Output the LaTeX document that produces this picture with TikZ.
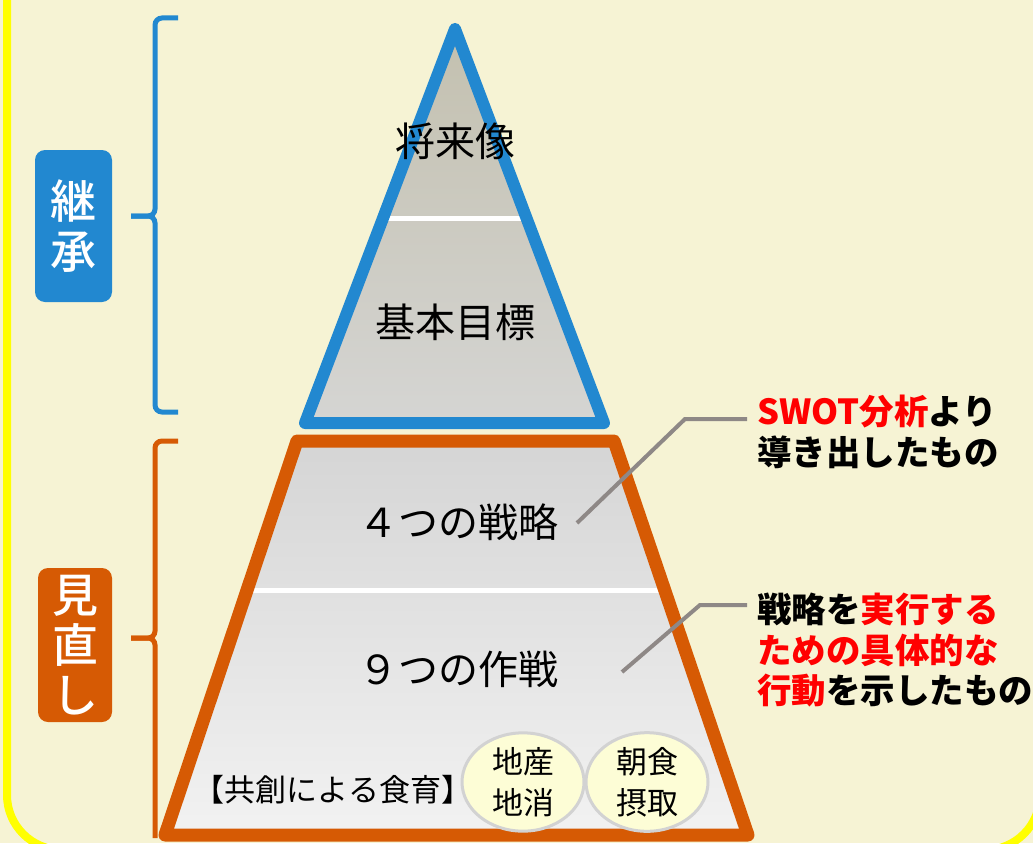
\documentclass[tikz,border=0pt]{standalone}
\usepackage{fontspec}
\newfontfamily\jp{Noto Sans CJK JP}
\IfFontExistsTF{Noto Sans CJK JP Medium}
 {\newfontfamily\jpb{Noto Sans CJK JP Medium}}
 {\newfontfamily\jpb{Noto Sans CJK JP}[FakeBold=2]}
\usetikzlibrary{shapes.geometric}
\definecolor{bg}{HTML}{F6F3D4}
\definecolor{ylw}{HTML}{FFFF00}
\definecolor{bl}{HTML}{2288D0}
\definecolor{org}{HTML}{D65A04}
\definecolor{ldr}{HTML}{8E8886}
\definecolor{ell}{HTML}{FDFDD6}
\definecolor{ellb}{HTML}{D2D2D2}
\definecolor{tritop}{HTML}{C3C0AF}
\definecolor{tribot}{HTML}{D5D5D3}
\definecolor{trtop}{HTML}{D5D5D5}
\definecolor{trbot}{HTML}{F2F2F2}
\tikzset{
 lvl/.style={font=\jp\fontsize{40}{48}\selectfont, inner sep=0},
 call/.style={font=\jp\bfseries\fontsize{34.5}{40}\selectfont, inner sep=0, anchor=west},
 ldrline/.style={draw=ldr, line width=4},
 tag/.style={rounded corners=10, text=white, font=\jpb\fontsize{46}{50}\selectfont, align=center, inner sep=0},
 brace/.style={line width=5, rounded corners=7},
 food/.style={ellipse, draw=ellb, fill=ell, line width=3, minimum width=122, minimum height=96, inner sep=0, align=center, font=\jp\fontsize{31}{41}\selectfont},
 divider/.style={draw=white, line width=5},
}
\begin{document}
\begin{tikzpicture}[x=1pt,y=-1pt]
\useasboundingbox (0,0) rectangle (1033,843);
\fill[bg] (0,0) rectangle (1033,843);
\draw[ylw, line width=8, rounded corners=55] (7,-60) rectangle (1040,850);

% brackets
\draw[bl, brace] (178,18) -- (155,18) -- (155,216) -- (131,216);
\draw[bl, brace] (131,216) -- (155,216) -- (155,412) -- (178,412);
\draw[org, brace] (178,441) -- (155,441) -- (155,638) -- (131,638);
\draw[org, brace] (131,638) -- (155,638) -- (155,838);

% tags
\node[tag, fill=bl, minimum width=77, minimum height=152] (keisho) at (73.5,226) {継\\承};
\node[tag, fill=org, minimum width=74, minimum height=154] (minaoshi) at (75,645) {見\\直\\し};

% trapezoid
\coordinate (TL) at (297,441);
\coordinate (TR) at (614,441);
\coordinate (BR) at (748,835);
\coordinate (BL) at (165,835);
\shade[top color=trtop, bottom color=trbot] (TL) -- (TR) -- (BR) -- (BL) -- cycle;
\draw[divider] (245,590) -- (668,590);
\draw[org, line width=13, line join=round] (TL) -- (TR) -- (BR) -- (BL) -- cycle;

% triangle
\coordinate (AP) at (455,29);
\coordinate (TBL) at (305,423);
\coordinate (TBR) at (604,423);
\shade[top color=tritop, bottom color=tribot] (AP) -- (TBR) -- (TBL) -- cycle;
\draw[divider] (382,218) -- (528,218);
\draw[bl, line width=12, line join=round] (AP) -- (TBR) -- (TBL) -- cycle;

% level labels
\node[lvl] (shorai) at (455,141) {将来像};
\node[lvl] (kihon) at (455,322) {基本目標};
\node[lvl] (senryaku) at (458,522) {４つの戦略};
\node[lvl] (sakusen) at (458,669) {９つの作戦};

% food education
\node[font=\jp\fontsize{31}{36}\selectfont, inner sep=0] (kyoso) at (333,790) {【共創による食育】};
\node[food] (chisan) at (523,782) {地産\\地消};
\node[food] (chosyoku) at (647,782) {朝食\\摂取};

% callouts
\node[call] (s1) at (757,412) {\textcolor{red}{SWOT分析}より};
\node[call] (s2) at (757,452) {導き出したもの};
\node[call] (t1) at (757,609) {戦略を\textcolor{red}{実行する}};
\node[call] (t2) at (757,650) {\textcolor{red}{ための具体的な}};
\node[call] (t3) at (757,691) {\textcolor{red}{行動}を示したもの};

% leaders
\coordinate (a1) at (577,523);
\coordinate (b1) at (685,419);
\coordinate (c1) at (747,419);
\draw[ldrline] (a1) -- (b1) -- (c1);
\coordinate (a2) at (622,672);
\coordinate (b2) at (700,605);
\coordinate (c2) at (747,605);
\draw[ldrline] (a2) -- (b2) -- (c2);
\end{tikzpicture}
\end{document}
